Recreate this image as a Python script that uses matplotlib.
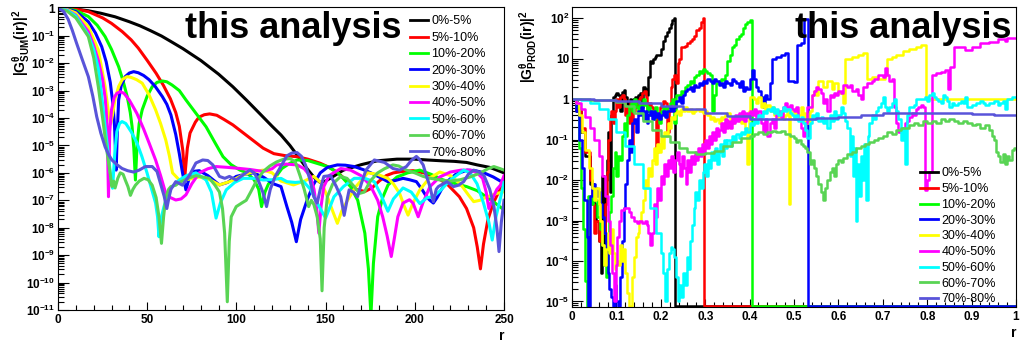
import numpy as np
import matplotlib
matplotlib.use("Agg")
import matplotlib.pyplot as plt
from matplotlib.lines import Line2D
from matplotlib.ticker import FixedLocator, FixedFormatter, MultipleLocator, NullFormatter

plt.rcParams['font.family'] = ['Liberation Sans', 'DejaVu Sans']
plt.rcParams['mathtext.fontset'] = 'custom'
plt.rcParams['mathtext.rm'] = 'Liberation Sans:bold'
plt.rcParams['mathtext.it'] = 'Liberation Sans:bold'
plt.rcParams['mathtext.bf'] = 'Liberation Sans:bold'
plt.rcParams['mathtext.default'] = 'rm'

# ---------------------------------------------------------------- labels / colours
centralities = ['0%-5%', '5%-10%', '10%-20%', '20%-30%', '30%-40%',
                '40%-50%', '50%-60%', '60%-70%', '70%-80%']
colors = ['#000000', '#ff0000', '#00ff00', '#0000ff', '#ffff00',
          '#ff00ff', '#00ffff', '#59d454', '#5954d9']

# ---------------------------------------------------------------- |G_SUM(ir)|^2, (r, log10 value)
sum_0_5 = [(0, 0), (5, -0.01), (10, -0.03), (17, -0.09), (24, -0.18), (32, -0.31), (40, -0.49),
           (46, -0.64), (52, -0.82), (58, -1.01), (63, -1.2), (70, -1.47), (80, -1.9), (90, -2.4),
           (98, -2.86), (106, -3.37), (114, -3.9), (120, -4.3), (125, -4.62), (130, -5.0),
           (134, -5.35), (139, -5.8), (144, -6.2), (147, -6.35), (150, -6.3), (155, -6.1),
           (160, -5.9), (170, -5.7), (179, -5.56), (190, -5.5), (200, -5.5), (207, -5.53),
           (215, -5.56), (222, -5.58), (229, -5.62), (235, -5.71), (242, -5.8), (250, -6.0)]
sum_5_10 = [(0, 0), (5, -0.01), (10, -0.03), (17, -0.12), (25, -0.35), (30, -0.55), (36, -0.85),
            (41, -1.15), (45, -1.45), (50, -1.9), (55, -2.37), (59, -2.8), (63, -3.3), (66, -3.8),
            (68, -4.3), (70, -5.2), (71, -6.2), (72.5, -5.1), (74, -4.55), (77, -4.15), (79, -3.97),
            (82, -3.88), (85, -3.85), (89, -3.9), (93, -4.05), (98, -4.25), (104, -4.55), (109, -4.8),
            (115, -5.1), (121, -5.3), (128, -5.38), (134, -5.41), (140, -5.5), (147, -5.65),
            (152, -5.8), (157, -6.0), (162, -6.3), (167, -6.6), (172, -6.68), (176, -6.55),
            (180, -6.3), (184, -6.1), (188, -6.0), (193, -5.95), (199, -5.92), (205, -6.0),
            (212, -6.16), (218, -6.4), (225, -6.87), (229, -7.3), (233, -8.0), (235, -8.7),
            (236.8, -9.5), (238.5, -8.6), (241, -7.7), (244, -7.1), (247, -6.7), (250, -6.35)]
sum_10_20 = [(0, 0), (5, -0.02), (10, -0.08), (17, -0.3), (22, -0.62), (26.4, -1.03), (30, -1.5),
             (34, -2.13), (36.5, -2.65), (38.8, -3.22), (40.5, -3.8), (41.5, -4.3), (42.5, -5.1),
             (43.4, -6.26), (44.3, -5.0), (45.5, -4.2), (47.2, -3.7), (50, -3.2), (52.8, -2.86),
             (55.5, -2.7), (58.5, -2.65), (61, -2.68), (64, -2.8), (68, -3.0), (71.7, -3.34),
             (77, -3.8), (83, -4.32), (88, -4.9), (92.5, -5.41), (97, -5.7), (102, -5.9), (106, -6.0),
             (110, -6.26), (112.5, -6.6), (114.1, -7.23), (116, -6.7), (118, -6.4), (120.8, -6.26),
             (125.5, -5.84), (130, -5.65), (134, -5.53), (140, -5.55), (145, -5.65), (151, -5.77),
             (157, -6.0), (164, -6.5), (168, -7.0), (172, -8.2), (174, -9.5), (175.4, -11.2),
             (176.8, -9.3), (179.2, -7.6), (182, -6.9), (185, -6.44), (190, -6.15), (196, -6.0),
             (202.8, -5.9), (209, -6.05), (216, -6.26), (222, -6.38), (229, -6.5), (235, -6.65),
             (240, -6.87), (245, -7.1), (250, -7.35)]
sum_20_30 = [(0, 0), (5, -0.03), (10, -0.12), (17, -0.49), (21, -0.9), (24.5, -1.4), (27, -1.95),
             (29.3, -2.7), (30.8, -3.5), (31.7, -4.3), (32.6, -5.9), (33.3, -4.4), (34, -3.34),
             (35.5, -2.8), (37.7, -2.49), (40, -2.36), (42.4, -2.31), (45, -2.35), (48, -2.45),
             (51, -2.6), (54.5, -2.85), (58.5, -3.22), (61, -3.5), (63.3, -3.89), (66, -4.6),
             (68, -5.3), (69.8, -6.0), (71.7, -6.62), (73.5, -6.2), (75.5, -5.95), (79.2, -5.92),
             (84, -6.1), (90.5, -6.44), (95, -6.35), (99.9, -6.13), (105, -6.05), (109.4, -6.0),
             (115, -6.15), (120.8, -6.4), (125, -6.5), (128.3, -7.23), (131, -7.8), (133.6, -8.51),
             (136, -7.7), (139.6, -7.0), (143, -6.45), (147, -6.0), (151, -5.8), (156.6, -5.71),
             (161, -5.72), (166, -5.77), (171, -5.88), (175.4, -6.0), (180, -6.15), (184.9, -6.32),
             (189, -6.28), (193.4, -6.2), (197, -6.25), (200.9, -6.32), (204, -6.6), (206.6, -6.87),
             (208.5, -7.0), (210.4, -7.1), (212.5, -6.9), (215, -6.6), (218, -6.32), (223, -6.05),
             (229.3, -5.9), (234, -5.92), (238.8, -6.0), (244, -6.15), (248, -6.3), (250, -6.32)]
sum_30_40 = [(0, 0), (5, -0.04), (10, -0.17), (17, -0.67), (22.6, -1.52), (26.4, -2.86),
             (28.3, -3.8), (29.5, -4.2), (30.5, -3.9), (32, -3.3), (34, -2.85), (36, -2.6),
             (38.7, -2.49), (41, -2.52), (44, -2.6), (47.2, -2.73), (51, -3.15), (54.7, -3.7),
             (57.5, -4.2), (60.4, -4.8), (62.5, -5.4), (64.2, -6.0), (68, -6.26), (72, -6.25),
             (79.2, -6.15), (85, -6.25), (90.5, -6.44), (97, -6.3), (103.8, -6.07), (110, -5.95),
             (115, -5.9), (120, -6.0), (125, -6.3), (132, -6.44), (138, -6.3), (143.4, -6.13),
             (148, -6.4), (151, -6.87), (154, -7.4), (156.6, -7.84), (159, -7.4), (162.3, -7.0),
             (167, -6.5), (173.6, -6.0), (179, -6.05), (184.9, -6.2), (188, -6.4), (191.5, -6.75),
             (194, -7.2), (196.2, -7.54), (199, -7.1), (202.8, -6.62), (208, -6.2), (214, -5.97),
             (220, -6.1), (225.5, -6.4), (230, -6.8), (233, -7.05), (236.5, -7.0), (240.6, -6.87),
             (246, -6.75), (250, -6.69)]
sum_40_50 = [(0, 0), (5, -0.06), (10, -0.25), (17, -0.85), (20, -1.35), (22.6, -1.9), (25, -2.6),
             (26.5, -3.3), (27.5, -4.2), (28.3, -6.87), (29, -4.5), (30, -3.7), (31.5, -3.25),
             (33, -3.1), (34.9, -3.04), (37, -3.1), (40, -3.35), (44.2, -3.83), (48, -4.4),
             (51, -4.9), (54.7, -5.53), (57.5, -6.1), (60.4, -6.75), (63, -6.9), (66, -6.99),
             (69, -6.95), (71.7, -6.8), (75, -6.4), (79.2, -6.0), (84, -5.85), (88.6, -5.77),
             (95, -5.8), (101.9, -5.84), (108, -5.88), (115, -5.95), (120, -5.85), (122.6, -5.71),
             (128, -5.68), (134, -5.71), (138, -5.85), (141.5, -6.13), (143.5, -6.6), (145, -7.3),
             (146.2, -8.2), (147.5, -7.2), (149, -6.5), (152, -6.1), (158.5, -5.84), (164, -5.9),
             (169.8, -6.1), (175, -6.45), (179.2, -7.0), (182, -7.6), (184.5, -8.3), (186.8, -9.05),
             (188.5, -8.4), (190.5, -7.6), (193.4, -7.1), (197, -6.98), (199, -7.1), (201.9, -7.6),
             (204.5, -7.1), (208.5, -6.5), (214, -6.15), (219.9, -5.97), (226, -5.9), (231.2, -5.9),
             (235, -6.0), (238, -6.2), (240, -6.7), (241.5, -7.3), (243.5, -6.95), (246, -6.6),
             (248, -6.45), (250, -6.1)]
sum_50_60 = [(0, 0), (5, -0.07), (10, -0.28), (17, -0.98), (20, -1.5), (22.6, -2.2), (24.5, -3.2),
             (26.4, -4.32), (28, -5.2), (29.3, -5.98), (30.6, -6.56), (31.8, -5.3), (33, -4.5),
             (34.5, -4.2), (35.9, -4.13), (38, -4.2), (41, -4.5), (44.2, -4.9), (47, -5.4),
             (49.9, -6.0), (52.5, -6.6), (54.7, -7.1), (55.8, -7.6), (56.6, -8.33), (57.6, -7.7),
             (59.4, -7.23), (61.5, -6.8), (63.3, -6.55), (66, -6.4), (68, -6.26), (72, -6.1),
             (77.3, -6.0), (83, -6.26), (86, -6.7), (88.6, -7.65), (91, -7.1), (94.3, -6.62),
             (99, -6.35), (103.8, -6.2), (110, -6.2), (115, -6.26), (120, -6.25), (125, -6.2),
             (128.3, -6.32), (133, -6.35), (137.7, -6.32), (141.5, -6.6), (145.3, -7.1),
             (150, -7.65), (154.7, -6.87), (160, -6.5), (166, -6.2), (172, -6.2), (177.3, -6.32),
             (181, -6.8), (184.9, -7.4), (188, -6.95), (193.4, -6.55), (198, -6.7), (202.8, -7.12),
             (207, -6.9), (210.4, -6.87), (215, -6.6), (219.9, -6.26), (227.4, -5.9), (231, -6.0),
             (234.9, -6.4), (238.5, -7.1), (241.5, -7.8), (243.4, -8.45), (245.5, -7.6),
             (248.2, -6.87), (250, -6.35)]
sum_60_70 = [(0, 0), (5, -0.1), (10, -0.35), (17, -1.03), (20, -1.8), (22.6, -2.86), (25, -4.0),
             (27.3, -5.16), (29, -5.9), (30.2, -6.5), (31.2, -6.3), (32, -6.55), (33.5, -6.2),
             (34.9, -6.0), (36.5, -6.05), (37.7, -6.26), (39.2, -6.5), (40.6, -6.82), (42, -6.6),
             (43.4, -6.45), (45.5, -6.3), (48.2, -6.2), (50.5, -6.25), (52.8, -6.45), (55, -6.9),
             (56.6, -7.6), (58, -8.57), (59.2, -7.6), (60.4, -6.9), (62, -6.6), (63.3, -6.5),
             (66, -6.45), (68, -6.35), (73, -6.2), (77.3, -6.1), (81, -6.15), (84.9, -6.2),
             (88, -6.45), (90.5, -6.7), (92.2, -7.3), (93.4, -8.2), (94.9, -10.7), (96, -8.5),
             (97.1, -7.6), (99.9, -7.23), (103, -7.1), (105.5, -7.0), (108, -6.7), (111.2, -6.3),
             (115, -5.95), (118.7, -5.75), (122.6, -5.6), (126.5, -5.5), (130.1, -5.48),
             (133, -5.6), (135.8, -6.13), (138, -6.6), (140.5, -7.23), (142, -7.0), (143.4, -7.15),
             (145.3, -7.6), (147, -8.4), (148, -10.3), (149.2, -8.0), (151, -6.87), (154, -6.4),
             (158.5, -6.13), (162, -6.2), (166, -6.5), (169, -6.75), (171.7, -6.7), (175, -6.3),
             (179.2, -6.0), (183, -5.85), (187.7, -5.71), (191, -5.75), (195.3, -5.9), (200, -6.0),
             (204.7, -6.13), (209, -6.2), (214.2, -6.26), (220, -6.3), (225.5, -6.25),
             (231, -6.15), (236.8, -6.0), (241, -5.85), (244.3, -5.77), (248, -5.85), (250, -5.9)]
sum_70_80 = [(0, 0), (3, -0.1), (5.7, -0.4), (8, -0.8), (10.4, -1.27), (13.5, -1.85), (17, -2.49),
             (19.5, -3.2), (21.7, -3.95), (24, -4.55), (26.4, -5.05), (28.5, -5.35), (30.2, -5.53),
             (33, -5.7), (35.9, -5.84), (39, -5.92), (42.4, -5.97), (45.5, -5.9), (49, -5.77),
             (52.8, -5.77), (55.5, -5.95), (57.5, -6.4), (59.5, -6.85), (61, -7.3), (62.2, -6.9),
             (63.3, -6.6), (66, -6.32), (69.8, -6.45), (73.6, -6.1), (77.3, -5.64), (81.1, -5.53),
             (84, -5.55), (86.8, -5.71), (90.5, -6.13), (93.5, -6.2), (96.1, -6.13), (99.9, -6.26),
             (103.8, -6.07), (107.5, -5.9), (110, -6.0), (112.2, -6.26), (114.8, -6.7),
             (116.9, -7.23), (119, -6.6), (121.7, -6.13), (125.5, -5.7), (128.3, -5.38),
             (131, -5.28), (134, -5.26), (136.5, -5.4), (138.7, -5.71), (141, -6.2), (143.4, -6.87),
             (145.3, -7.1), (147, -6.6), (149, -6.13), (152.8, -6.1), (156, -6.5), (158.5, -6.87),
             (160.4, -7.55), (162, -7.0), (163.2, -6.62), (165.5, -6.7), (167.9, -6.87),
             (170, -6.4), (172.6, -5.9), (177.3, -5.53), (183, -5.62), (187.7, -5.84),
             (191.5, -5.9), (195.3, -5.77), (198, -5.55), (200.9, -5.4), (202.5, -5.5),
             (204.7, -5.71), (206.6, -6.13), (208.5, -6.5), (210.4, -7.05), (212, -6.6),
             (213.2, -6.5), (218, -6.32), (221.7, -6.5), (224.5, -6.45), (227.4, -6.32),
             (230, -6.05), (233, -5.9), (236, -5.97), (238.8, -6.1), (242, -6.6), (244.3, -7.2),
             (246, -8.0), (247.2, -8.87), (248.5, -7.8), (250, -7.0)]

# ---------------------------------------------------------------- |G_PROD(ir)|^2, (r, log10 value)
EMPTY = float('-inf')   # empty bin
prod_0_5 = [(0, 0), (0.01, -0.3), (0.02, -0.8), (0.03, -1.4), (0.04, -2.1), (0.05, -2.6),
            (0.055, -3.0), (0.06, -3.5), (0.065, -4.3), (0.068, -1.9), (0.072, -3.8),
            (0.075, -2.0), (0.078, -1.5), (0.081, -0.8), (0.085, -2.3), (0.088, -0.4),
            (0.092, 0.05), (0.096, 0.1), (0.1, 0.15), (0.104, 0.1), (0.108, -0.3), (0.112, 0.18),
            (0.116, 0.22), (0.119, 0.05), (0.123, -0.1), (0.127, -0.15), (0.131, 0.0),
            (0.134, -0.25), (0.138, 0.0), (0.142, 0.05), (0.146, -0.05), (0.149, 0.1),
            (0.153, 0.15), (0.157, -0.2), (0.16, 0.3), (0.164, 0.25), (0.167, 0.1), (0.171, 0.55),
            (0.175, 0.95), (0.178, 0.9), (0.182, 1.0), (0.186, 1.05), (0.19, 1.08), (0.195, 1.1),
            (0.2, 1.25), (0.205, 1.45), (0.209, 1.55), (0.214, 1.65), (0.218, 1.75),
            (0.222, 1.85), (0.226, 1.95), (0.229, 2.0), (0.232, EMPTY), (1.0, EMPTY)]
prod_5_10 = [(0, 0), (0.01, -0.25), (0.02, -0.7), (0.03, -1.3), (0.04, -2.0), (0.045, -2.6),
             (0.05, -3.3), (0.055, -3.0), (0.06, -3.5), (0.065, -3.0), (0.07, -3.3), (0.074, -2.6),
             (0.078, -1.8), (0.081, -1.0), (0.085, -0.5), (0.088, -0.3), (0.092, -0.6),
             (0.096, -0.3), (0.1, 0.0), (0.104, -0.2), (0.108, 0.05), (0.112, 0.1), (0.116, 0.0),
             (0.12, -0.4), (0.124, -0.2), (0.128, -0.6), (0.131, -0.1), (0.135, -1.2),
             (0.138, -0.3), (0.142, -0.1), (0.146, -0.2), (0.15, 0.0), (0.154, 0.05),
             (0.158, 0.15), (0.162, 0.2), (0.166, 0.05), (0.17, -0.3), (0.174, -0.1),
             (0.178, -0.2), (0.182, -0.4), (0.186, -0.25), (0.19, -1.3), (0.194, -0.4),
             (0.198, -0.2), (0.202, -0.15), (0.206, -0.05), (0.21, -0.1), (0.214, -0.8),
             (0.218, -0.3), (0.222, 0.3), (0.226, 0.5), (0.23, 0.6), (0.234, 0.4), (0.238, 0.9),
             (0.242, 1.0), (0.246, 1.3), (0.25, 1.3), (0.255, 1.32), (0.26, 1.4), (0.265, 1.45),
             (0.27, 1.5), (0.275, 1.55), (0.28, 1.7), (0.285, 1.75), (0.29, 1.9), (0.294, 2.0),
             (0.297, EMPTY), (1.0, EMPTY)]
prod_10_20 = [(0, 0), (0.008, -0.2), (0.015, -1.2), (0.02, -2.2), (0.025, -3.2), (0.03, -4.5),
              (0.033, EMPTY), (0.037, -2.4), (0.042, -2.6), (0.047, -2.2), (0.052, -2.5),
              (0.057, -2.9), (0.062, -3.2), (0.067, -3.6), (0.072, -4.1), (0.076, -4.4),
              (0.08, -3.5), (0.084, -2.8), (0.088, -2.4), (0.092, -1.7), (0.096, -1.3),
              (0.1, -1.9), (0.104, -1.4), (0.108, -1.5), (0.112, -0.9), (0.116, -0.6),
              (0.12, -0.9), (0.124, -0.4), (0.128, -0.2), (0.132, -0.1), (0.136, -0.3),
              (0.14, 0.0), (0.144, -0.2), (0.148, -0.3), (0.152, -0.1), (0.156, -0.2), (0.16, 0.0),
              (0.164, -0.15), (0.168, -0.3), (0.172, -0.2), (0.176, -0.4), (0.18, -0.3),
              (0.184, -0.5), (0.188, -0.2), (0.192, -0.4), (0.196, -0.6), (0.2, -0.3),
              (0.205, -0.2), (0.21, -0.4), (0.215, -0.2), (0.22, -0.1), (0.225, 0.0), (0.23, -0.6),
              (0.235, 0.1), (0.24, 0.05), (0.245, 0.2), (0.25, 0.15), (0.255, 0.3), (0.26, 0.35),
              (0.265, 0.45), (0.27, 0.4), (0.275, 0.55), (0.28, 0.6), (0.285, 0.7), (0.29, 0.65),
              (0.295, 0.75), (0.3, 0.7), (0.305, 0.65), (0.31, 0.6), (0.315, -0.3), (0.32, 0.1),
              (0.325, 0.4), (0.33, 0.45), (0.335, 0.5), (0.34, 0.48), (0.345, 0.6), (0.35, 0.95),
              (0.355, 1.1), (0.36, 1.3), (0.365, 1.35), (0.37, 1.5), (0.375, 1.55), (0.38, 1.6),
              (0.385, 1.75), (0.39, 1.85), (0.395, 1.9), (0.4, 1.95), (0.405, EMPTY), (1.0, EMPTY)]
prod_20_30 = [(0, 0), (0.008, -0.3), (0.015, -1.0), (0.022, -1.7), (0.028, -2.5), (0.033, -3.4),
              (0.037, EMPTY), (0.04, -2.4), (0.044, -2.15), (0.048, -2.1), (0.052, -2.2),
              (0.056, -2.4), (0.06, -2.3), (0.064, -2.6), (0.068, -2.9), (0.072, -3.3),
              (0.076, -3.8), (0.08, -4.3), (0.084, -4.7), (0.088, -4.9), (0.092, EMPTY),
              (0.096, -4.6), (0.1, -5.0), (0.104, EMPTY), (0.108, -4.4), (0.112, -3.5),
              (0.116, -2.7), (0.12, -2.1), (0.124, -1.5), (0.128, -1.0), (0.132, -1.3),
              (0.136, -0.6), (0.14, -0.5), (0.144, -0.8), (0.148, -0.3), (0.152, -0.4),
              (0.156, -0.2), (0.16, -0.5), (0.164, -0.3), (0.168, -0.6), (0.172, -0.4),
              (0.176, -0.3), (0.18, -0.5), (0.184, -0.3), (0.188, -0.45), (0.192, -0.35),
              (0.196, -0.5), (0.2, -0.4), (0.205, -0.3), (0.21, -0.45), (0.215, -0.3), (0.22, -0.2),
              (0.225, -0.3), (0.23, -0.2), (0.235, -0.05), (0.24, 0.05), (0.245, -0.1), (0.25, 0.1),
              (0.255, 0.2), (0.26, 0.25), (0.265, 0.3), (0.27, 0.2), (0.275, 0.35), (0.28, 0.3),
              (0.285, 0.4), (0.29, 0.35), (0.295, 0.45), (0.3, 0.4), (0.305, 0.5), (0.31, 0.45),
              (0.315, 0.4), (0.32, 0.5), (0.325, 0.45), (0.33, 0.35), (0.335, 0.4), (0.34, 0.3),
              (0.345, 0.45), (0.35, 0.4), (0.355, 0.35), (0.36, 0.5), (0.365, 0.45), (0.37, 0.4),
              (0.375, 0.3), (0.38, 0.45), (0.385, 0.2), (0.39, 0.3), (0.395, 0.25), (0.4, 0.5),
              (0.405, 0.72), (0.41, 0.5), (0.415, 0.3), (0.42, 0.2), (0.425, 0.05), (0.43, -0.2),
              (0.435, 0.1), (0.44, 0.0), (0.445, 0.4), (0.45, 1.0), (0.46, 1.05), (0.47, 1.1),
              (0.48, 1.15), (0.486, 0.45), (0.49, 0.45), (0.5, 0.42), (0.507, 1.35), (0.515, 1.4),
              (0.522, 1.98), (0.531, EMPTY), (1.0, EMPTY)]
prod_30_40 = [(0, 0), (0.008, -0.1), (0.015, -0.4), (0.022, -0.8), (0.03, -1.25), (0.038, -1.7),
              (0.045, -2.2), (0.05, -2.5), (0.055, -2.2), (0.06, -2.6), (0.064, -3.0),
              (0.068, -3.6), (0.072, -4.1), (0.076, -3.7), (0.08, -3.3), (0.084, -3.8),
              (0.088, -3.2), (0.092, -3.8), (0.096, -4.2), (0.1, -4.0), (0.104, -4.1),
              (0.108, -3.6), (0.112, -4.0), (0.116, -3.7), (0.12, -4.3), (0.124, -4.8),
              (0.128, EMPTY), (0.136, -4.4), (0.14, -3.9), (0.144, -3.4), (0.148, -3.3),
              (0.152, -3.0), (0.156, -2.8), (0.16, -2.5), (0.164, -2.0), (0.168, -2.2),
              (0.172, -1.7), (0.176, -1.9), (0.18, -1.5), (0.184, -1.2), (0.188, -1.6),
              (0.192, -1.1), (0.196, -1.3), (0.2, -0.9), (0.204, -1.2), (0.208, -0.8),
              (0.212, -0.9), (0.216, -0.6), (0.22, -0.7), (0.224, -0.45), (0.228, -0.5),
              (0.232, -0.35), (0.236, -0.3), (0.24, -0.4), (0.245, -0.25), (0.25, -0.3),
              (0.255, -0.2), (0.26, -0.3), (0.265, -0.25), (0.27, -0.35), (0.275, -0.3),
              (0.28, -0.25), (0.285, -0.3), (0.29, -0.28), (0.295, -0.35), (0.3, -0.3),
              (0.305, -0.4), (0.31, -0.5), (0.315, -0.45), (0.32, -0.55), (0.325, -0.5),
              (0.33, -0.6), (0.335, -0.45), (0.34, -0.5), (0.345, -0.4), (0.35, -0.35),
              (0.355, -0.5), (0.36, -0.6), (0.365, -0.45), (0.37, -0.5), (0.375, -0.55),
              (0.38, -0.6), (0.385, -0.5), (0.39, -0.7), (0.394, -1.6), (0.398, -0.3),
              (0.402, 0.05), (0.41, 0.0), (0.415, -0.1), (0.42, 0.05), (0.425, -0.2), (0.43, -0.1),
              (0.435, -0.3), (0.44, -0.15), (0.445, -0.3), (0.45, -0.2), (0.455, -0.4),
              (0.46, -0.3), (0.465, -0.45), (0.47, -0.35), (0.475, -0.5), (0.48, -0.4),
              (0.485, -0.3), (0.488, -2.6), (0.492, -0.3), (0.5, -0.45), (0.505, -0.25),
              (0.51, -0.4), (0.515, -0.2), (0.52, -0.55), (0.525, -0.35), (0.53, -0.6),
              (0.535, -0.3), (0.54, 0.1), (0.545, 0.2), (0.55, 0.1), (0.555, 0.45), (0.565, 0.3),
              (0.575, 0.45), (0.585, 0.25), (0.59, 0.4), (0.6, 0.15), (0.61, -0.1), (0.615, 1.0),
              (0.63, 1.05), (0.645, 1.1), (0.655, 1.15), (0.664, 0.5), (0.675, 0.55), (0.69, 0.5),
              (0.705, 0.6), (0.71, 1.0), (0.72, 1.05), (0.73, 1.1), (0.745, 1.2), (0.76, 1.25),
              (0.775, 1.3), (0.785, 1.35), (0.797, 0.0), (1.0, 0.0)]
prod_40_50 = [(0, 0), (0.01, -0.1), (0.02, -0.25), (0.03, -0.45), (0.04, -0.7), (0.05, -1.0),
              (0.06, -1.4), (0.068, -1.9), (0.074, -2.4), (0.08, -3.0), (0.085, -3.6),
              (0.09, -4.3), (0.094, -5.0), (0.098, -4.1), (0.102, -3.4), (0.106, -3.0),
              (0.11, -2.75), (0.116, -2.68), (0.122, -2.7), (0.128, -2.8), (0.134, -2.9),
              (0.14, -3.0), (0.146, -3.05), (0.152, -3.0), (0.158, -3.05), (0.164, -3.0),
              (0.168, -3.1), (0.172, -3.3), (0.176, -3.6), (0.18, -3.3), (0.184, -2.6),
              (0.188, -2.9), (0.192, -2.2), (0.196, -2.5), (0.2, -1.9), (0.204, -2.1),
              (0.208, -1.6), (0.212, -1.9), (0.216, -1.5), (0.22, -1.7), (0.224, -1.4),
              (0.228, -1.8), (0.232, -1.5), (0.236, -1.3), (0.24, -1.6), (0.244, -1.9),
              (0.248, -1.4), (0.252, -1.7), (0.256, -2.1), (0.26, -1.5), (0.264, -1.8),
              (0.268, -1.4), (0.272, -1.6), (0.276, -1.3), (0.28, -1.5), (0.284, -1.2),
              (0.288, -1.4), (0.292, -1.1), (0.296, -1.3), (0.3, -1.0), (0.304, -1.2),
              (0.308, -0.9), (0.312, -1.1), (0.316, -0.8), (0.32, -1.0), (0.324, -0.7),
              (0.328, -0.9), (0.332, -0.75), (0.336, -0.6), (0.34, -0.8), (0.344, -0.5),
              (0.348, -0.7), (0.352, -0.55), (0.356, -0.7), (0.36, -0.45), (0.364, -0.6),
              (0.368, -0.4), (0.372, -0.55), (0.376, -0.35), (0.38, -0.5), (0.384, -0.3),
              (0.388, -0.55), (0.392, -0.35), (0.396, -0.45), (0.4, -0.3), (0.405, -0.4),
              (0.41, -0.25), (0.415, -0.5), (0.42, -0.3), (0.425, -0.6), (0.43, -0.8),
              (0.435, -0.5), (0.44, -0.9), (0.445, -0.6), (0.45, -0.5), (0.455, -0.7),
              (0.46, -0.4), (0.465, -0.3), (0.47, -0.45), (0.475, -0.2), (0.48, -0.1),
              (0.485, -0.2), (0.49, -0.15), (0.495, -0.25), (0.5, -0.3), (0.505, -0.2),
              (0.51, -0.5), (0.515, -0.7), (0.52, -0.9), (0.525, -0.6), (0.53, -0.2), (0.54, 0.1),
              (0.545, 0.2), (0.55, 0.3), (0.555, 0.25), (0.56, 0.15), (0.565, -0.1), (0.57, 0.0),
              (0.575, -0.3), (0.58, 0.1), (0.585, 0.05), (0.59, 0.15), (0.595, 0.1), (0.6, 0.2),
              (0.605, 0.15), (0.61, 0.35), (0.62, 0.3), (0.625, 0.35), (0.63, 0.2), (0.64, 0.25),
              (0.645, 0.1), (0.65, 0.0), (0.655, 0.3), (0.665, 0.4), (0.675, 0.45), (0.68, 0.5),
              (0.69, 0.6), (0.7, 0.55), (0.705, 0.78), (0.71, 0.6), (0.715, 0.45), (0.72, 0.5),
              (0.725, -0.2), (0.73, -0.6), (0.735, -0.8), (0.74, -0.7), (0.745, -0.75),
              (0.75, -0.6), (0.755, -0.55), (0.76, -0.45), (0.765, -0.35), (0.77, -0.4),
              (0.775, -0.25), (0.78, -0.2), (0.785, -0.15), (0.79, -0.2), (0.795, -2.25),
              (0.8, -2.0), (0.805, -1.8), (0.81, 0.6), (0.82, 0.65), (0.83, 0.68), (0.84, 0.72),
              (0.847, 0.25), (0.852, 0.8), (0.86, 1.3), (0.875, 1.3), (0.885, 1.22), (0.9, 1.3),
              (0.92, 1.38), (0.94, 1.42), (0.96, 1.48), (0.975, 1.45), (0.98, 1.52), (1.0, 1.52)]
prod_50_60 = [(0, 0), (0.02, -0.03), (0.04, -0.1), (0.06, -0.25), (0.08, -0.5), (0.1, -0.8),
              (0.12, -1.15), (0.14, -1.6), (0.16, -2.2), (0.175, -2.7), (0.19, -3.3), (0.2, -3.8),
              (0.205, -4.3), (0.21, -5.0), (0.214, -4.2), (0.218, -3.8), (0.222, -3.65),
              (0.226, -3.7), (0.23, -3.9), (0.234, -4.4), (0.238, -5.0), (0.242, -4.6),
              (0.246, -4.9), (0.25, -4.3), (0.254, -4.6), (0.258, -3.9), (0.262, -4.2),
              (0.266, -3.5), (0.27, -3.1), (0.274, -2.7), (0.278, -2.3), (0.282, -2.5),
              (0.286, -2.0), (0.29, -2.2), (0.294, -1.8), (0.298, -1.6), (0.302, -1.9),
              (0.306, -1.5), (0.31, -1.7), (0.314, -1.3), (0.318, -1.5), (0.322, -1.2),
              (0.326, -1.6), (0.33, -1.3), (0.334, -1.1), (0.338, -1.4), (0.342, -1.0),
              (0.346, -1.2), (0.35, -1.0), (0.355, -1.15), (0.36, -0.9), (0.365, -1.0),
              (0.37, -0.85), (0.375, -0.95), (0.38, -0.8), (0.385, -0.85), (0.39, -0.7),
              (0.395, -0.8), (0.4, -0.6), (0.405, -0.65), (0.41, -0.5), (0.415, -0.6), (0.42, -0.4),
              (0.425, -0.45), (0.43, -0.3), (0.435, -0.35), (0.44, -0.25), (0.445, -0.3),
              (0.45, -0.2), (0.455, -0.35), (0.46, -0.25), (0.465, -0.4), (0.47, -0.3),
              (0.475, -0.2), (0.48, -0.3), (0.485, -0.25), (0.49, -0.35), (0.495, -0.4),
              (0.5, -0.5), (0.505, -0.4), (0.51, -0.55), (0.515, -0.45), (0.52, -0.6),
              (0.525, -0.75), (0.53, -0.95), (0.535, -0.6), (0.54, -0.4), (0.545, -0.5),
              (0.55, -0.35), (0.555, -0.55), (0.56, -0.45), (0.565, -0.6), (0.57, -0.5),
              (0.575, -0.7), (0.58, -0.4), (0.585, -0.55), (0.59, -0.3), (0.595, -0.5),
              (0.6, -0.4), (0.605, -0.2), (0.61, -0.35), (0.615, -0.55), (0.62, -0.7),
              (0.625, -1.4), (0.628, -0.9), (0.632, -1.9), (0.636, -1.2), (0.64, -3.0),
              (0.643, -1.6), (0.647, -2.4), (0.65, -1.4), (0.654, -2.0), (0.658, -1.1),
              (0.662, -2.5), (0.666, -0.9), (0.67, -0.6), (0.675, -0.4), (0.68, -0.5),
              (0.685, -0.3), (0.69, -0.2), (0.695, -0.1), (0.7, 0.05), (0.705, -0.2), (0.71, -0.3),
              (0.715, -0.2), (0.72, -0.1), (0.725, 0.0), (0.73, -0.3), (0.735, -0.5), (0.74, -1.0),
              (0.745, -0.7), (0.75, -1.6), (0.755, -0.4), (0.76, -0.2), (0.77, -0.15),
              (0.775, 0.0), (0.785, 0.0), (0.795, 0.05), (0.8, -0.05), (0.805, 0.1), (0.81, 0.15),
              (0.815, 0.05), (0.82, 0.0), (0.825, -0.05), (0.83, -0.1), (0.835, 0.1),
              (0.84, 0.05), (0.845, -0.05), (0.85, -0.2), (0.855, -0.1), (0.86, -0.15),
              (0.87, -0.1), (0.875, -0.05), (0.88, -0.1), (0.885, 0.05), (0.89, -0.2),
              (0.9, -0.15), (0.91, -0.1), (0.92, -0.05), (0.925, -0.1), (0.93, -0.15), (0.94, -0.1),
              (0.95, -0.05), (0.96, -0.15), (0.965, -0.1), (0.97, -0.05), (0.975, -0.25),
              (0.98, 0.0), (0.99, 0.05), (1.0, 0.05)]
prod_60_70 = [(0, 0), (0.02, 0.0), (0.04, -0.01), (0.06, -0.02), (0.08, -0.03), (0.1, -0.08),
              (0.12, -0.18), (0.14, -0.35), (0.16, -0.55), (0.18, -0.75), (0.2, -0.9),
              (0.22, -1.05), (0.24, -1.2), (0.26, -1.3), (0.28, -1.35), (0.3, -1.33),
              (0.32, -1.28), (0.34, -1.15), (0.36, -1.05), (0.38, -0.95), (0.4, -0.9),
              (0.41, -0.85), (0.42, -0.8), (0.43, -0.85), (0.44, -0.8), (0.45, -0.78),
              (0.46, -0.82), (0.47, -0.78), (0.48, -0.85), (0.49, -0.9), (0.5, -0.95),
              (0.505, -1.05), (0.51, -1.0), (0.515, -1.1), (0.52, -1.15), (0.525, -1.2),
              (0.53, -1.3), (0.535, -1.6), (0.54, -1.5), (0.545, -1.7), (0.55, -1.9),
              (0.555, -2.1), (0.56, -2.3), (0.565, -2.5), (0.57, -2.2), (0.575, -2.0),
              (0.58, -1.8), (0.585, -1.7), (0.59, -1.9), (0.595, -1.6), (0.6, -1.5),
              (0.605, -1.55), (0.61, -1.45), (0.62, -1.35), (0.63, -1.3), (0.64, -1.2),
              (0.65, -1.15), (0.66, -1.1), (0.67, -1.05), (0.68, -1.0), (0.69, -0.95), (0.7, -0.9),
              (0.71, -0.8), (0.72, -0.85), (0.73, -0.75), (0.74, -0.7), (0.75, -0.72),
              (0.76, -0.65), (0.77, -0.6), (0.78, -0.65), (0.79, -0.55), (0.8, -0.6), (0.81, -0.55),
              (0.82, -0.58), (0.83, -0.5), (0.84, -0.55), (0.85, -0.48), (0.86, -0.55),
              (0.87, -0.6), (0.88, -0.55), (0.89, -0.6), (0.9, -0.65), (0.91, -0.62), (0.92, -0.7),
              (0.93, -0.65), (0.94, -0.75), (0.945, -0.9), (0.95, -1.0), (0.955, -1.3),
              (0.96, -1.4), (0.965, -1.55), (0.97, -1.35), (0.975, -1.6), (0.98, -1.4),
              (0.985, -1.5), (0.99, -1.25), (0.995, -1.2), (1.0, -1.2)]
prod_70_80 = [(0, 0), (0.05, -0.01), (0.1, -0.05), (0.15, -0.1), (0.2, -0.17), (0.25, -0.25),
              (0.3, -0.33), (0.35, -0.42), (0.4, -0.48), (0.45, -0.5), (0.5, -0.49), (0.55, -0.46),
              (0.6, -0.43), (0.65, -0.4), (0.7, -0.35), (0.75, -0.33), (0.8, -0.33), (0.85, -0.35),
              (0.9, -0.37), (0.95, -0.38), (1.0, -0.39)]

sum_series = [sum_0_5, sum_5_10, sum_10_20, sum_20_30, sum_30_40,
              sum_40_50, sum_50_60, sum_60_70, sum_70_80]
prod_series = [prod_0_5, prod_5_10, prod_10_20, prod_20_30, prod_30_40,
               prod_40_50, prod_50_60, prod_60_70, prod_70_80]

sum_yticks = [1e-11, 1e-10, 1e-9, 1e-8, 1e-7, 1e-6, 1e-5, 1e-4, 1e-3, 1e-2, 1e-1, 1]
sum_ylabels = [r'$10^{-11}$', r'$10^{-10}$', r'$10^{-9}$', r'$10^{-8}$', r'$10^{-7}$',
               r'$10^{-6}$', r'$10^{-5}$', r'$10^{-4}$', r'$10^{-3}$', r'$10^{-2}$',
               r'$10^{-1}$', '1']
prod_yticks = [1e-5, 1e-4, 1e-3, 1e-2, 1e-1, 1, 10, 100]
prod_ylabels = [r'$10^{-5}$', r'$10^{-4}$', r'$10^{-3}$', r'$10^{-2}$', r'$10^{-1}$',
                '1', '10', r'$10^{2}$']

# ---------------------------------------------------------------- figure
W, H = 1021, 342
fig = plt.figure(figsize=(W / 100, H / 100), dpi=100)
ax1 = fig.add_axes([58 / W, 1 - 310 / H, (504 - 58) / W, (310 - 7) / H])
ax2 = fig.add_axes([572 / W, 1 - 307 / H, (1016 - 572) / W, (307 - 7) / H])

SUM_YMIN, SUM_YMAX = 1e-11, 1.115
PROD_YMIN, PROD_YMAX = 7.3e-6, 190

for pts, c in zip(sum_series, colors):
    r = np.array([p[0] for p in pts], dtype=float)
    v = 10.0 ** np.array([p[1] for p in pts], dtype=float)
    ax1.plot(r, v, color=c, lw=2.2, solid_joinstyle='round')

for pts, c in zip(prod_series, colors):
    r = np.array([p[0] for p in pts], dtype=float)
    v = 10.0 ** np.array([p[1] for p in pts], dtype=float)
    v = np.maximum(v, PROD_YMIN * 1.04)   # empty bins sit on the axis floor
    ax2.step(r, v, where='post', color=c, lw=1.8)


def style_axis(ax, ymin, ymax, yticks, ylabels, xmax, xmajor, xminor, xlabels):
    ax.set_yscale('log')
    ax.set_xlim(0, xmax)
    ax.set_ylim(ymin, ymax)
    ax.yaxis.set_major_locator(FixedLocator(yticks))
    ax.yaxis.set_major_formatter(FixedFormatter(ylabels))
    minors = [m * 10.0 ** e for e in range(-12, 3) for m in range(2, 10)]
    ax.yaxis.set_minor_locator(FixedLocator([m for m in minors if ymin <= m <= ymax]))
    ax.yaxis.set_minor_formatter(NullFormatter())
    ax.xaxis.set_major_locator(FixedLocator(xmajor))
    ax.xaxis.set_major_formatter(FixedFormatter(xlabels))
    ax.xaxis.set_minor_locator(MultipleLocator(xminor))
    ax.tick_params(which='both', direction='in', top=False, right=False, width=0.8)
    ax.tick_params(axis='y', which='major', length=8, pad=2)
    ax.tick_params(axis='y', which='minor', length=4)
    ax.tick_params(axis='x', which='major', length=6, pad=3)
    ax.tick_params(axis='x', which='minor', length=3.5)
    for lbl in ax.get_xticklabels() + ax.get_yticklabels():
        lbl.set_fontsize(8.5)
        lbl.set_fontweight('bold')
    for s in ax.spines.values():
        s.set_linewidth(0.8)


style_axis(ax1, SUM_YMIN, SUM_YMAX, sum_yticks, sum_ylabels, 250,
           [0, 50, 100, 150, 200, 250], 10, ['0', '50', '100', '150', '200', '250'])
style_axis(ax2, PROD_YMIN, PROD_YMAX, prod_yticks, prod_ylabels, 1.0,
           [0, 0.1, 0.2, 0.3, 0.4, 0.5, 0.6, 0.7, 0.8, 0.9, 1.0], 0.02,
           ['0', '0.1', '0.2', '0.3', '0.4', '0.5', '0.6', '0.7', '0.8', '0.9', '1'])

ax1.set_xlabel('r', fontsize=10, fontweight='bold', loc='right', labelpad=2)
ax2.set_xlabel('r', fontsize=10, fontweight='bold', loc='right', labelpad=2)
ax1.set_ylabel(r'$|G^{\theta}_{SUM}(ir)|^{2}$', fontsize=10, loc='top')
ax2.set_ylabel(r'$|G^{\theta}_{PROD}(ir)|^{2}$', fontsize=10, loc='top')
ax1.yaxis.set_label_coords(-0.058, 0.99)
ax2.yaxis.set_label_coords(-0.074, 0.99)

ax1.text(0.285, 0.897, 'this analysis', transform=ax1.transAxes, fontsize=26,
         fontweight='bold', va='baseline', ha='left', zorder=5)
ax2.text(0.502, 0.897, 'this analysis', transform=ax2.transAxes, fontsize=26,
         fontweight='bold', va='baseline', ha='left', zorder=5)

handles = [Line2D([], [], color=c, lw=2.0) for c in colors]
leg_kw = dict(frameon=False, fontsize=9, handlelength=1.45, handletextpad=0.25,
              borderpad=0, borderaxespad=0, loc='upper left',
              bbox_transform=fig.transFigure)
ax1.legend(handles, centralities, labelspacing=0.35,
           bbox_to_anchor=(410 / W, 1 - 15.5 / H), **leg_kw)
ax2.legend(handles, centralities, labelspacing=0.30,
           bbox_to_anchor=(920 / W, 1 - 167.5 / H), **leg_kw)

fig.savefig('out.png', dpi=100)
